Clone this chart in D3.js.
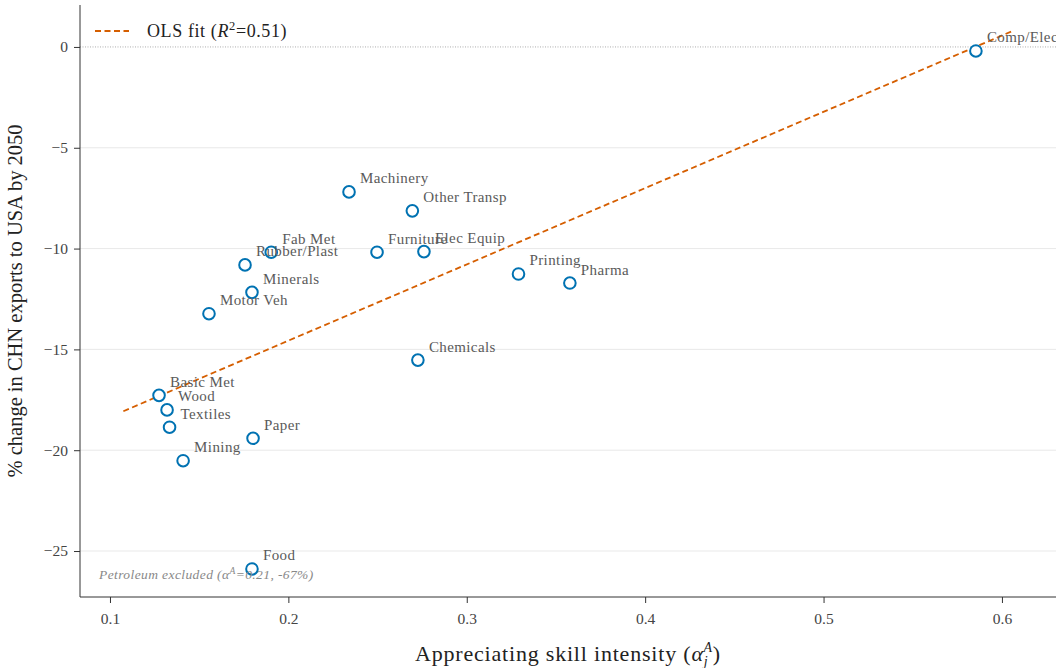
<!DOCTYPE html>
<html><head><meta charset="utf-8">
<script src="https://cdn.jsdelivr.net/npm/d3@7"></script>
<style>
body{margin:0;background:#fff;}
svg{display:block;font-family:"Liberation Serif","DejaVu Serif",serif;}
</style></head>
<body><svg id="c" width="1056" height="668"></svg>
<script>
const sectors = ["Comp/Elec","Machinery","Other Transp","Fab Met","Furniture","Elec Equip","Rubber/Plast","Minerals","Motor Veh","Printing","Pharma","Chemicals","Basic Met","Wood","Textiles","Paper","Mining","Food"];
const skillIntensity = [0.5854,0.234,0.2695,0.1904,0.2497,0.276,0.1757,0.1796,0.1555,0.329,0.3578,0.2726,0.1275,0.132,0.1334,0.1802,0.141,0.1796];
const exportChange = [-0.2,-7.19,-8.13,-10.18,-10.18,-10.15,-10.81,-12.17,-13.23,-11.26,-11.71,-15.53,-17.28,-18.0,-18.86,-19.41,-20.52,-25.89];
const xTicks = [0.1,0.2,0.3,0.4,0.5,0.6];
const yTicks = [0,-5,-10,-15,-20,-25];

const svg = d3.select("#c");
const L=80, R=1056, T=5, B=597;
const x = d3.scaleLinear().domain([0.0832,0.6303]).range([L,R]);
const y = d3.scaleLinear().domain([-27.28,2.08]).range([B,T]);

// grid
svg.append("g").selectAll("line").data(yTicks.filter(d=>d!==0)).join("line")
  .attr("x1",L).attr("x2",R).attr("y1",d=>y(d)).attr("y2",d=>y(d))
  .attr("stroke","#e3e3e3").attr("stroke-width",0.8);
svg.append("line").attr("x1",L).attr("x2",R).attr("y1",y(0)).attr("y2",y(0))
  .attr("stroke","#999").attr("stroke-width",0.8).attr("stroke-dasharray","1,1.5");

// OLS fit
const n = sectors.length;
const mx = d3.mean(skillIntensity), my = d3.mean(exportChange);
let sxy=0,sxx=0,syy=0;
for(let i=0;i<n;i++){const dx=skillIntensity[i]-mx, dy=exportChange[i]-my; sxy+=dx*dy; sxx+=dx*dx; syy+=dy*dy;}
const slope = sxy/sxx, intercept = my - slope*mx;
const r2 = (sxy*sxy)/(sxx*syy);
const x0 = d3.min(skillIntensity)-0.02, x1 = d3.max(skillIntensity)+0.02;
svg.append("line").attr("x1",x(x0)).attr("y1",y(intercept+slope*x0)).attr("x2",x(x1)).attr("y2",y(intercept+slope*x1))
  .attr("stroke","#d55e00").attr("stroke-width",1.8).attr("stroke-dasharray","6,3.5");

// axes
const xa = svg.append("g").attr("transform",`translate(0,${B})`)
  .call(d3.axisBottom(x).tickValues(xTicks).tickSize(6).tickPadding(10).tickFormat(d3.format(".1f")));
const ya = svg.append("g").attr("transform",`translate(${L},0)`)
  .call(d3.axisLeft(y).tickValues(yTicks).tickSize(6).tickPadding(6).tickFormat(d=>d<0?"\u2212"+Math.abs(d):d));
[xa,ya].forEach(a=>{
  a.select(".domain").attr("stroke","#333").attr("stroke-width",1);
  a.selectAll(".tick line").attr("stroke","#333");
  a.selectAll(".tick text").attr("fill","#444").attr("font-size",15.5).attr("font-family","Liberation Serif, serif");
});
ya.select(".domain").attr("d",`M0,${T}V${B}`);
xa.select(".domain").attr("d",`M${L},0H${R}`);

// points
const pts = sectors.map((s,i)=>({s,x:skillIntensity[i],y:exportChange[i]}));
svg.append("g").selectAll("circle").data(pts).join("circle")
  .attr("cx",d=>x(d.x)).attr("cy",d=>y(d.y)).attr("r",5.8)
  .attr("fill","#fff").attr("stroke","#0072b2").attr("stroke-width",2);
svg.append("g").selectAll("text").data(pts).join("text")
  .attr("x",d=>x(d.x)+11).attr("y",d=>y(d.y)-8.5)
  .attr("font-size",15).attr("letter-spacing",0.4).attr("fill","#5a5a5a").text(d=>d.s);

// annotation
const ann = svg.append("text").attr("x",99).attr("y",579).attr("font-size",13.5).attr("letter-spacing",0.4).attr("font-style","italic").attr("fill","#888");
ann.append("tspan").text("Petroleum excluded (\u03b1");
ann.append("tspan").attr("dy",-5).attr("font-size",9.5).text("A");
ann.append("tspan").attr("dy",5).text("=0.21, -67%)");

// legend
svg.append("line").attr("x1",95).attr("x2",129).attr("y1",31).attr("y2",31)
  .attr("stroke","#d55e00").attr("stroke-width",1.8).attr("stroke-dasharray","6,3.5");
const lt = svg.append("text").attr("x",147).attr("y",37).attr("font-size",18).attr("letter-spacing",0.6).attr("fill","#222");
lt.append("tspan").text("OLS fit (");
lt.append("tspan").attr("font-style","italic").text("R");
lt.append("tspan").attr("dy",-7).attr("font-size",12.5).text("2");
lt.append("tspan").attr("dy",7).text("="+r2.toFixed(2)+")");

// axis labels
const xl = svg.append("text").attr("x",568).attr("y",661).attr("text-anchor","middle").attr("font-size",22).attr("letter-spacing",0.8).attr("fill","#222");
xl.append("tspan").text("Appreciating skill intensity (");
xl.append("tspan").attr("font-style","italic").text("\u03b1");
xl.append("tspan").attr("dy",5).attr("font-size",14).attr("font-style","italic").text("j");
xl.append("tspan").attr("dy",-14).attr("dx",-5).attr("font-size",14).attr("font-style","italic").text("A");
xl.append("tspan").attr("dy",9).text(")");
svg.append("text").attr("transform",`translate(22,${(T+B)/2}) rotate(-90)`).attr("text-anchor","middle")
  .attr("font-size",20.5).attr("fill","#222").text("% change in CHN exports to USA by 2050");
</script></body></html>
